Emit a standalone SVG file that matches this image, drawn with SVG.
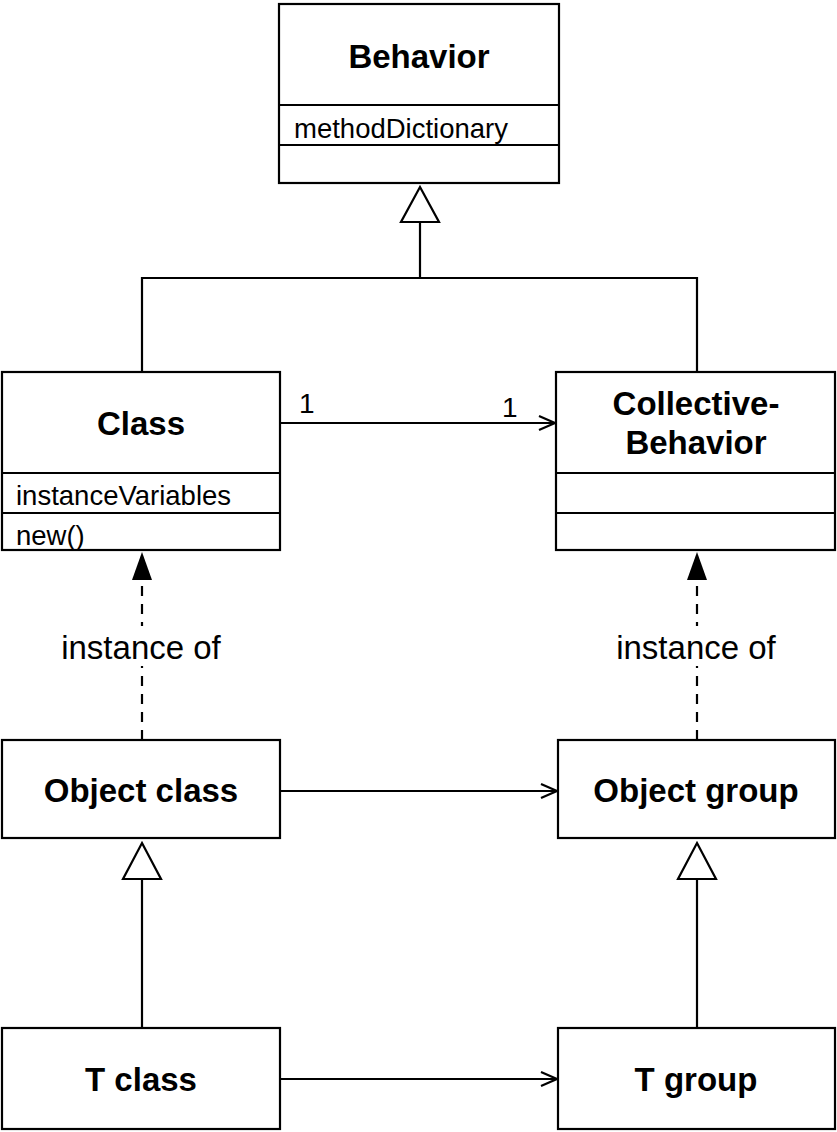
<svg xmlns="http://www.w3.org/2000/svg" width="837" height="1132" viewBox="0 0 837 1132">
<style>
.box{fill:#fff;stroke:#000;stroke-width:2.2}
.ln{fill:none;stroke:#000;stroke-width:2.2}
.dash{fill:none;stroke:#000;stroke-width:2.2;stroke-dasharray:10 8}
.t{font-family:"Liberation Sans",Arial,sans-serif;font-weight:bold;font-size:33px;text-anchor:middle;fill:#000}
.a{font-family:"Liberation Sans",Arial,sans-serif;font-size:27.5px;fill:#000}
.l{font-family:"Liberation Sans",Arial,sans-serif;font-size:33px;text-anchor:middle;fill:#000}
.m{font-family:"Liberation Sans",Arial,sans-serif;font-size:28px;fill:#000}
</style>
<defs>
<marker id="open" markerWidth="20" markerHeight="20" refX="17" refY="8" orient="auto" markerUnits="userSpaceOnUse">
<path d="M1,1 L17,8 L1,15" fill="none" stroke="#000" stroke-width="2.2"/>
</marker>
</defs>

<g id="connectors">
<path class="ln" d="M420,278 L420,221"/>
<path d="M420,187 L439,222 L401,222 Z" fill="#fff" stroke="#000" stroke-width="2.2"/>
<path class="ln" d="M142,372 L142,278 L697,278 L697,372"/>
<path class="ln" d="M280,423 L555,423" marker-end="url(#open)"/>
<text class="m" x="299" y="413">1</text>
<text class="m" x="502" y="417">1</text>
<path class="dash" d="M142,740 L142,580"/>
<path d="M142,552 L152,580 L132,580 Z" fill="#000"/>
<path class="dash" d="M697,740 L697,580"/>
<path d="M697,552 L707,580 L687,580 Z" fill="#000"/>
<rect x="52" y="626" width="180" height="40" fill="#fff"/>
<text class="l" x="141" y="659">instance of</text>
<rect x="606" y="626" width="180" height="40" fill="#fff"/>
<text class="l" x="696" y="659">instance of</text>
<path class="ln" d="M280,791 L557,791" marker-end="url(#open)"/>
<path class="ln" d="M142,1028 L142,878"/>
<path d="M142,843 L161,879 L123,879 Z" fill="#fff" stroke="#000" stroke-width="2.2"/>
<path class="ln" d="M697,1028 L697,878"/>
<path d="M697,843 L716,879 L678,879 Z" fill="#fff" stroke="#000" stroke-width="2.2"/>
<path class="ln" d="M280,1079 L557,1079" marker-end="url(#open)"/>
</g>

<g id="behavior">
<rect class="box" x="279" y="4" width="280" height="179"/>
<line class="ln" x1="279" y1="105" x2="559" y2="105"/>
<line class="ln" x1="279" y1="145" x2="559" y2="145"/>
<text class="t" x="419" y="68">Behavior</text>
<text class="a" x="294" y="138">methodDictionary</text>
</g>

<g id="class">
<rect class="box" x="2" y="372" width="278" height="178"/>
<line class="ln" x1="2" y1="473" x2="280" y2="473"/>
<line class="ln" x1="2" y1="513" x2="280" y2="513"/>
<text class="t" x="141" y="435">Class</text>
<text class="a" x="16" y="505">instanceVariables</text>
<text class="a" x="16" y="545">new()</text>
</g>

<g id="collective-behavior">
<rect class="box" x="556" y="372" width="279" height="178"/>
<line class="ln" x1="556" y1="473" x2="835" y2="473"/>
<line class="ln" x1="556" y1="513" x2="835" y2="513"/>
<text class="t" x="696" y="415">Collective-</text>
<text class="t" x="696" y="454">Behavior</text>
</g>

<g id="object-class">
<rect class="box" x="2" y="740" width="278" height="98"/>
<text class="t" x="141" y="802">Object class</text>
</g>

<g id="object-group">
<rect class="box" x="558" y="740" width="277" height="98"/>
<text class="t" x="696" y="802">Object group</text>
</g>

<g id="t-class">
<rect class="box" x="2" y="1028" width="278" height="101"/>
<text class="t" x="141" y="1091">T class</text>
</g>

<g id="t-group">
<rect class="box" x="558" y="1028" width="277" height="101"/>
<text class="t" x="696" y="1091">T group</text>
</g>
</svg>
